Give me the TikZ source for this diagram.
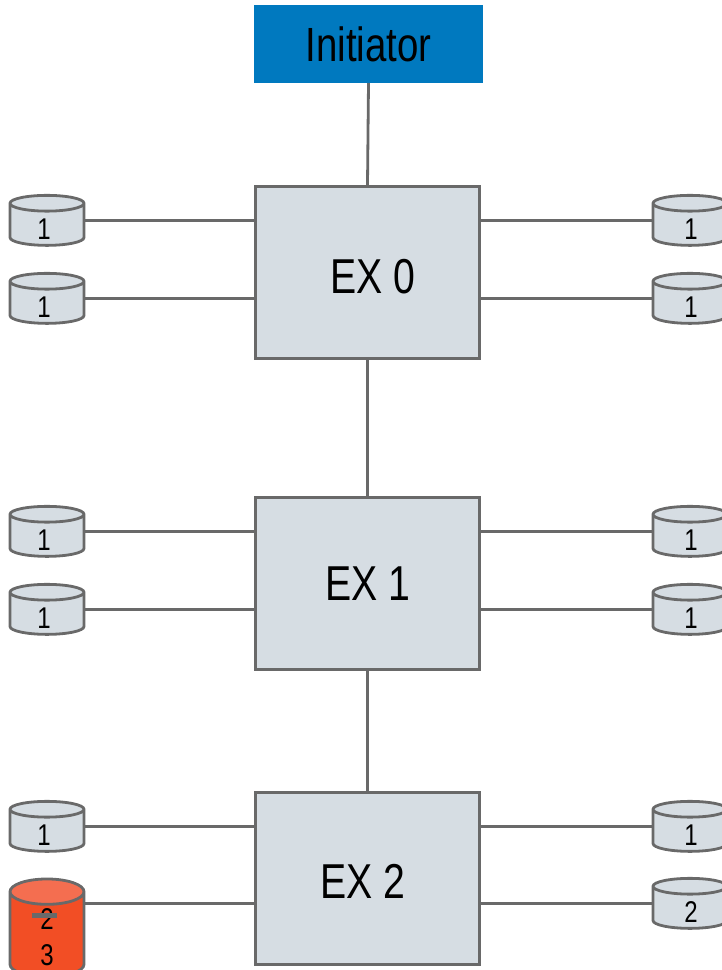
\documentclass[tikz,border=0pt]{standalone}
\usepackage{fontspec}
\setmainfont[FakeStretch=0.8]{Liberation Sans}
\usetikzlibrary{shapes.geometric}
\definecolor{boxgray}{HTML}{D6DDE3}
\definecolor{linegray}{HTML}{696969}
\definecolor{initblue}{HTML}{0079BF}
\definecolor{failred}{HTML}{F24E25}
\definecolor{failtop}{HTML}{F46E50}
\tikzset{
  link/.style={draw=linegray,line width=2.8pt},
  exbox/.style={draw=linegray,line width=2.8pt,fill=boxgray,minimum width=224pt,minimum height=172.5pt,inner sep=0pt,font=\fontsize{49}{49}\selectfont},
  disk/.style={cylinder,shape border rotate=90,draw=linegray,line width=2.8pt,cylinder uses custom fill,cylinder body fill=boxgray,cylinder end fill=boxgray,aspect=1.03,minimum width=74pt,minimum height=50pt,inner sep=0pt,outer sep=0pt,font=\fontsize{30}{30}\selectfont},
  numtext/.style={inner sep=0pt,font=\fontsize{30}{30}\selectfont}
}
\newcommand{\disknum}[2][0pt]{\raisebox{-14.75pt}[0pt][0pt]{\makebox[15.3pt]{\kern#1#2}}}
\begin{document}
\begin{tikzpicture}[x=1pt,y=-1pt]
  \useasboundingbox (0,0) rectangle (722,970);
  % switches
  \node[fill=initblue,minimum width=229pt,minimum height=78pt,inner sep=0pt,font=\fontsize{48}{48}\selectfont] (init) at (368.5,44) {Initiator};
  \node[exbox] (ex0) at (367.5,272.5) {\kern11pt\raisebox{-20.5pt}[0pt][0pt]{EX 0}};
  \node[exbox] (ex1) at (367.5,583.5) {EX 1};
  \node[exbox] (ex2) at (367.5,878.5) {\raisebox{-20pt}[0pt][0pt]{EX 2}\kern9pt};
  \draw[link] (init.south) -- (ex0.north);
  \draw[link] (ex0.south) -- (ex1.north);
  \draw[link] (ex1.south) -- (ex2.north);
  % left disks
  \node[disk] (l0a) at (47,225) {\disknum[-6pt]{1}};
  \node[disk] (l0b) at (47,303) {\disknum[-6pt]{1}};
  \node[disk] (l1a) at (47,536) {\disknum[-6pt]{1}};
  \node[disk] (l1b) at (47,614) {\disknum[-6pt]{1}};
  \node[disk] (l2a) at (47,831) {\disknum[-6pt]{1}};
  \node[disk,cylinder body fill=failred,cylinder end fill=failtop,aspect=1.9,minimum height=98pt] (l2b) at (47,935) {\phantom{3}};
  % right disks
  \node[disk] (r0a) at (690,225) {\disknum[2pt]{1}};
  \node[disk] (r0b) at (690,303) {\disknum[2pt]{1}};
  \node[disk] (r1a) at (690,536) {\disknum[2pt]{1}};
  \node[disk] (r1b) at (690,614) {\disknum[2pt]{1}};
  \node[disk] (r2a) at (690,831) {\disknum[2pt]{1}};
  \node[disk] (r2b) at (690,908) {\disknum[2pt]{2}};
  % failed disk
  \node[numtext] (old) at (47,919) {2};
  \node[numtext] (new) at (47,955) {3};
  \draw[draw=linegray,line width=5pt] (32,915) -- (57,915);
  \coordinate (l2bport) at (84,903.6);
  % links
  \draw[link] (l0a.shape center -| l0a.east) -- (l0a.shape center -| ex0.west);
  \draw[link] (l0b.shape center -| l0b.east) -- (l0b.shape center -| ex0.west);
  \draw[link] (l1a.shape center -| l1a.east) -- (l1a.shape center -| ex1.west);
  \draw[link] (l1b.shape center -| l1b.east) -- (l1b.shape center -| ex1.west);
  \draw[link] (l2a.shape center -| l2a.east) -- (l2a.shape center -| ex2.west);
  \draw[link] (l2bport) -- (l2bport -| ex2.west);
  \draw[link] (r0a.shape center -| r0a.west) -- (r0a.shape center -| ex0.east);
  \draw[link] (r0b.shape center -| r0b.west) -- (r0b.shape center -| ex0.east);
  \draw[link] (r1a.shape center -| r1a.west) -- (r1a.shape center -| ex1.east);
  \draw[link] (r1b.shape center -| r1b.west) -- (r1b.shape center -| ex1.east);
  \draw[link] (r2a.shape center -| r2a.west) -- (r2a.shape center -| ex2.east);
  \draw[link] (r2b.shape center -| r2b.west) -- (r2b.shape center -| ex2.east);
\end{tikzpicture}
\end{document}
